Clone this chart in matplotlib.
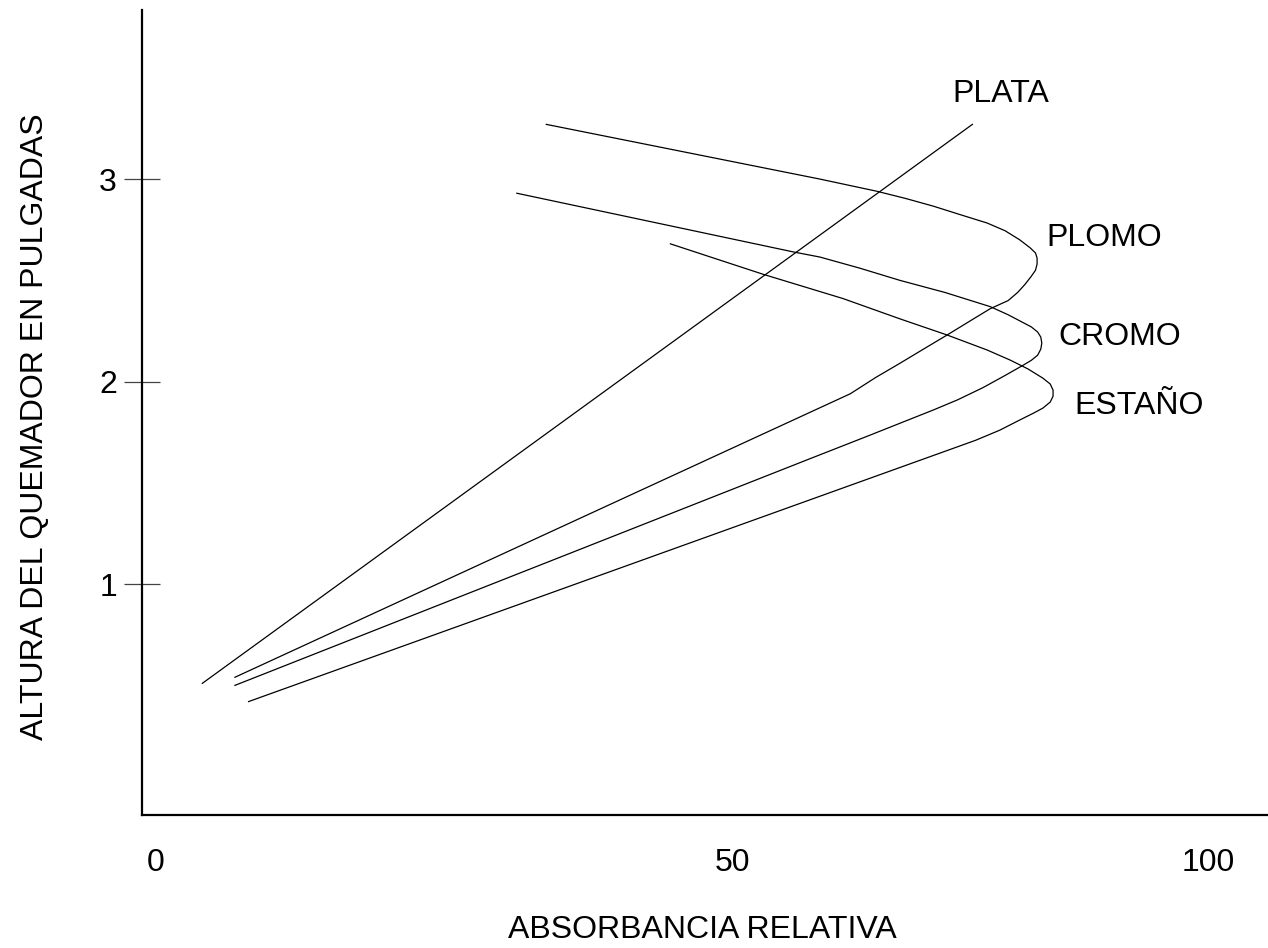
import matplotlib
matplotlib.use("Agg")
import matplotlib.pyplot as plt

plt.rcParams['font.family'] = ['Liberation Sans', 'DejaVu Sans']

# curves (x: absorbancia relativa, y: altura en pulgadas)
plata_x = [4.4, 77.6]
plata_y = [0.51, 3.27]

plomo_x = [37.1, 63.1, 68.5, 71.2, 73.9, 76.4, 79.0, 80.7, 82.1, 83.1, 83.6, 83.75, 83.75, 83.6, 83.2,
           82.6, 81.9, 81.0, 79.3, 77.4, 75.2, 73.1, 70.7, 68.4, 66.0, 7.5]
plomo_y = [3.27, 3.00, 2.94, 2.905, 2.866, 2.825, 2.783, 2.745, 2.70, 2.66, 2.635, 2.61, 2.58, 2.55, 2.52,
           2.48, 2.44, 2.40, 2.36, 2.30, 2.23, 2.165, 2.09, 2.02, 1.94, 0.54]

cromo_x = [34.3, 60.6, 63.1, 66.9, 70.7, 75.0, 79.3, 81.0, 82.1, 83.2, 83.8, 84.1, 84.2, 84.1, 83.8,
           83.2, 82.4, 80.7, 78.6, 76.2, 73.9, 67.6, 62.2, 7.5]
cromo_y = [2.93, 2.64, 2.615, 2.56, 2.50, 2.44, 2.37, 2.33, 2.30, 2.27, 2.245, 2.22, 2.19, 2.16, 2.13,
           2.105, 2.08, 2.03, 1.97, 1.91, 1.86, 1.73, 1.62, 0.50]

estano_x = [48.9, 57.7, 65.3, 70.7, 75.2, 79.0, 81.2, 82.9, 84.3, 85.0, 85.27, 85.27, 85.0, 84.3,
            83.4, 81.9, 80.2, 77.9, 8.8]
estano_y = [2.68, 2.53, 2.41, 2.31, 2.23, 2.156, 2.106, 2.062, 2.017, 1.988, 1.958, 1.928, 1.899, 1.869,
            1.844, 1.805, 1.76, 1.71, 0.42]

curve_names = ['PLATA', 'PLOMO', 'CROMO', 'ESTAÑO']
name_x = [80.3, 90.1, 91.6, 93.4]
name_y = [3.42, 2.71, 2.22, 1.88]

x_tick_pos = [0, 54.8, 100]
x_tick_labels = ['0', '50', '100']
y_ticks = [1, 2, 3]

fig = plt.figure(figsize=(12.68, 9.48), dpi=100)
ax = fig.add_axes([0.112, 0.1403, 0.888, 0.8492])

for xs, ys in [(plata_x, plata_y), (plomo_x, plomo_y), (cromo_x, cromo_y), (estano_x, estano_y)]:
    ax.plot(xs, ys, color='black', linewidth=0.9, solid_joinstyle='round')

for name, tx, ty in zip(curve_names, name_x, name_y):
    ax.text(tx, ty, name, fontsize=23, ha='center', va='center')

ax.set_xlim(-1.33, 105.7)
ax.set_ylim(-0.14, 3.835)

ax.spines['top'].set_visible(False)
ax.spines['right'].set_visible(False)
ax.spines['left'].set_linewidth(1.6)
ax.spines['bottom'].set_linewidth(1.6)

ax.set_xticks(x_tick_pos)
ax.set_xticklabels(x_tick_labels)
ax.tick_params(axis='x', length=0, pad=24, labelsize=23)

ax.set_yticks(y_ticks)
ax.set_yticklabels([str(v) for v in y_ticks])
ax.tick_params(axis='y', direction='inout', length=26, width=0.9, color='#444444',
               pad=5, labelsize=23)
for lbl in ax.get_yticklabels():
    lbl.set_va('center_baseline')

ax.set_xlabel('ABSORBANCIA RELATIVA', fontsize=23)
ax.xaxis.set_label_coords(0.498, -0.124)
ax.set_ylabel('ALTURA DEL QUEMADOR EN PULGADAS', fontsize=23)
ax.yaxis.label.set_va('center')
ax.yaxis.set_label_coords(-0.095, 0.482)

plt.savefig('out.png', dpi=100)
